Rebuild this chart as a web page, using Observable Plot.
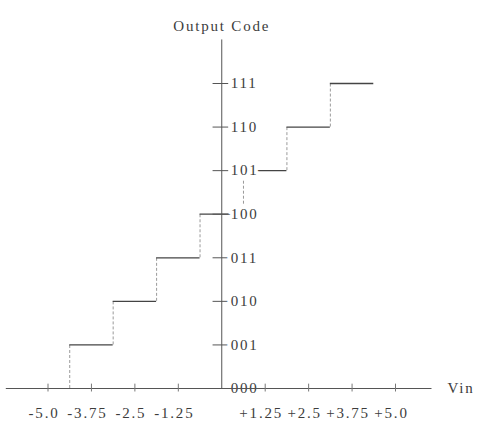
<!DOCTYPE html>
<html>
<head>
<meta charset="utf-8">
<script src="https://cdn.jsdelivr.net/npm/d3@7"></script>
<script src="https://cdn.jsdelivr.net/npm/@observablehq/plot@0.6"></script>
<style>
  html, body { margin: 0; padding: 0; background: #fff; }
  #chart svg { display: block; }
</style>
</head>
<body>
<div id="chart"></div>
<script>
// Output codes (y axis), index = code value
const codes = ["000", "001", "010", "011", "100", "101", "110", "111"];
// Input voltage ticks (x axis)
const xTicks = [-5.0, -3.75, -2.5, -1.25, 1.25, 2.5, 3.75, 5.0];
const xTickLabels = ["-5.0", "-3.75", "-2.5", "-1.25", "+1.25", "+2.5", "+3.75", "+5.0"];
// Code transition voltages of the staircase
const transitions = [-4.375, -3.125, -1.875, -0.625, 0.625, 1.875, 3.125, 4.375];
const yTitle = "Output Code";
const xTitle = "Vin";

const codeIdx = codes.map((c, i) => i);
const treads = codes.slice(1).map((c, i) => ({x1: transitions[i], x2: transitions[i + 1], y: i + 1}));
const risers = transitions.slice(0, 7).map((t, i) => ({x: t, y1: i, y2: i + 1}));
const xLab = xTicks.map((v, i) => ({x: v, label: xTickLabels[i]}));
const yLab = codes.map((c, i) => ({y: i, label: c}));

const ink = "#3c3c3c";

const chart = Plot.plot({
  width: 487,
  height: 432,
  marginLeft: 47.5,
  marginRight: 92,
  marginTop: 83,
  marginBottom: 44,
  x: {domain: [-5, 5], axis: null},
  y: {domain: [0, 7], axis: null},
  style: {fontFamily: "'Liberation Serif', 'DejaVu Serif', serif", fontSize: "15px", letterSpacing: "1.8px", background: "#fff", color: ink},
  marks: [
    // staircase risers (faint, dotted in the scan)
    Plot.ruleX(risers, {x: "x", y1: "y1", y2: "y2", stroke: "#9a9a9a", strokeWidth: 1, strokeDasharray: "3,2"}),
    // staircase treads
    Plot.ruleY(treads, {y: "y", x1: "x1", x2: "x2", stroke: "#444", strokeWidth: 1.3}),
    // vertical axis
    Plot.ruleX([0], {y1: 0, y2: 8.0, stroke: "#555", strokeWidth: 1}),
    // y tick marks
    Plot.ruleY(codeIdx, {x1: -0.25, x2: 0.2, stroke: "#555", strokeWidth: 1}),
    // y labels with white halo
    Plot.text(yLab, {x: () => 0, y: "y", text: "label", textAnchor: "start", dx: 9, fill: ink, stroke: "white", strokeWidth: 8, fontSize: 15}),
    // horizontal axis
    Plot.ruleY([0], {x1: -6.2, x2: 6.05, stroke: "#555", strokeWidth: 1.1}),
    // x tick marks
    Plot.ruleX(xTicks, {y1: -0.08, y2: 0.1, stroke: "#777", strokeWidth: 1}),
    // x tick labels
    Plot.text(xLab, {x: "x", y: () => 0, text: "label", dy: 25, dx: -4, fill: ink, fontSize: 15}),
    // axis titles
    Plot.text([yTitle], {x: () => 0, frameAnchor: "top", dy: -63, fill: ink, fontSize: 15}),
    Plot.text([xTitle], {y: () => 0, frameAnchor: "right", dx: 52, textAnchor: "start", fill: ink, fontSize: 15})
  ]
});
document.getElementById("chart").appendChild(chart);
</script>
</body>
</html>
